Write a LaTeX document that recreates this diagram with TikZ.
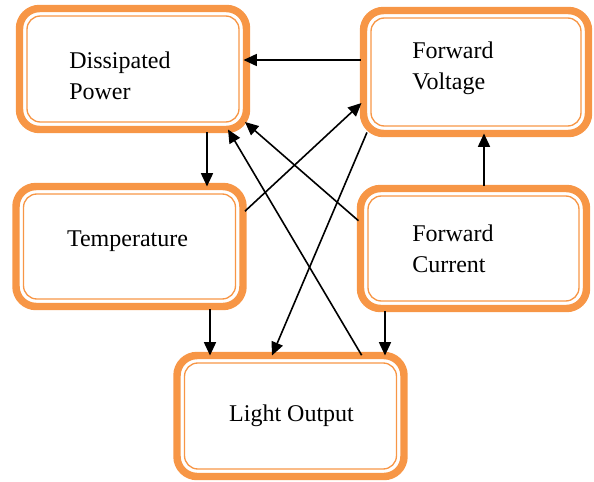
\documentclass[tikz,border=0pt]{standalone}
\usepackage{fontspec}
\setmainfont{Liberation Serif}
\usetikzlibrary{arrows.meta,calc}
\definecolor{boxorange}{RGB}{247,150,70}
\begin{document}
\begin{tikzpicture}[x=0.75pt,y=-0.75pt,
  boxx/.style={rectangle, draw=boxorange, line width=5.6pt, rounded corners=15pt,
    minimum width=170.25pt, minimum height=90.75pt, outer sep=0pt, inner sep=0pt},
  innerln/.style={draw=boxorange, line width=1pt, rounded corners=10pt},
  lbl/.style={inner sep=0pt, align=left, font=\fontsize{18}{23}\selectfont},
  conn/.style={draw=black, line width=1.2pt, shorten <=2pt,
    -{Triangle[length=10pt,width=9pt]}}]
\useasboundingbox (0,0) rectangle (594,482);
% boxes
\node[boxx] (dp)  at (133,69) {};
\node[boxx, minimum width=168.75pt, minimum height=92.25pt] (fv) at (476,72) {};
\node[boxx, minimum height=90pt] (tmp) at (129.5,246.5) {};
\node[boxx, minimum width=169.5pt, minimum height=90pt] (fc)  at (473.5,248.5) {};
\node[boxx] (lo)  at (290.5,416) {};
\foreach \n in {dp,fv,tmp,fc,lo}{
  \draw[innerln] ($(\n.north west)+(7.5,7.5)$) rectangle ($(\n.south east)+(-7.5,-7.5)$);
}
% labels
\node[lbl, anchor=west] (dpt) at (69,75.5) {Dissipated\\Power};
\node[lbl, anchor=west] (fvt) at (412,68) {Forward\\Voltage};
\node[lbl] (tmpt) at (127.5,241) {Temperature};
\node[lbl, anchor=west] (fct) at (412,249) {Forward\\Current};
\node[lbl] (lot) at (291.5,416) {Light Output};
% helper coordinates
\coordinate (c1) at ($(fv.west)+(0,-12)$);
\coordinate (c2) at ($(dp.south)+(74,0)$);
\coordinate (c7) at ($(tmp.south)+(80.5,0)$);
\coordinate (c8) at ($(fc.south)+(-88.5,0)$);
\coordinate (c9) at ($(fc.north)+(10.5,0)$);
% connectors
\draw[conn] (c1) -- ($(c1 -| dp.east)+(-3,0)$);
\draw[conn] (c2) -- (c2 |- tmp.north);
\draw[conn] ($(fc.west)+(0,-26)$) -- ($(dp.south east)+(-1.5,-7.5)$);
\draw[conn] ($(lo.north)+(72.5,2)$) -- ($(dp.south)+(95,0)$);
\draw[conn] ($(tmp.east)+(0,-33.5)$) -- ($(fv.west)+(-2,31)$);
\draw[conn] ($(fv.south west)+(4.5,-3.5)$) -- ($(lo.north)+(-18.5,0)$);
\draw[conn] (c7) -- (c7 |- lo.north);
\draw[conn] (c8) -- (c8 |- lo.north);
\draw[conn] (c9) -- (c9 |- fv.south);
\end{tikzpicture}
\end{document}
